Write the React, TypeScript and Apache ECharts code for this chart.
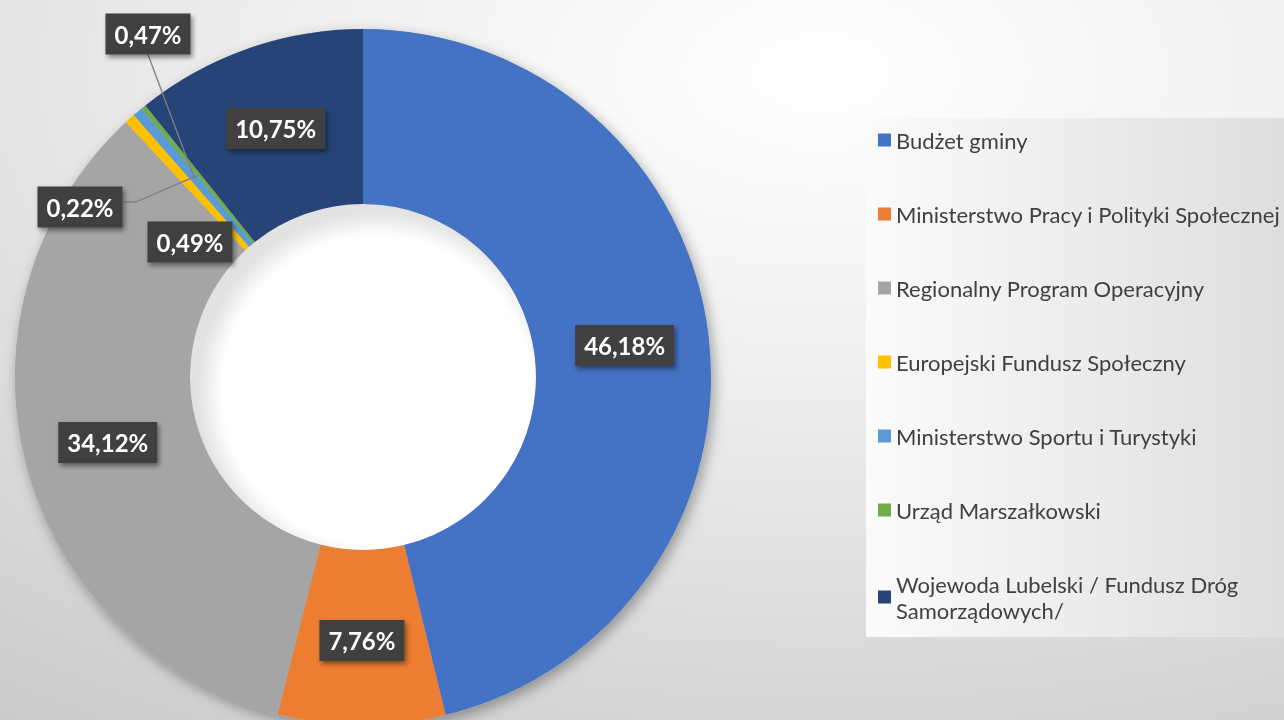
import React, { useEffect, useRef } from "react";
import * as echarts from "echarts";

const categories = [
  "Budżet gminy",
  "Ministerstwo Pracy i Polityki Społecznej",
  "Regionalny Program Operacyjny",
  "Europejski Fundusz Społeczny",
  "Ministerstwo Sportu i Turystyki",
  "Urząd Marszałkowski",
  "Wojewoda Lubelski / Fundusz Dróg Samorządowych/",
];
const shares = [46.18, 7.76, 34.12, 0.49, 0.47, 0.22, 10.75];
const colors = ["#4472C4", "#ED7D31", "#A5A5A5", "#FFC000", "#5B9BD5", "#70AD47", "#264478"];

// layout (not data)
const CX = 363;
const CY = 377;
const R_IN = 173;
const R_OUT = 348;
// manual label placements for the tiny slices: [x, y, withLine]
const labelPlacement: Record<number, [number, number, boolean]> = {
  3: [190, 242, false],
  4: [148, 34, true],
  5: [80, 207, true],
};

function midAnchor(idx: number): [number, number] {
  const total = shares.reduce((a, b) => a + b, 0);
  let cum = 0;
  for (let i = 0; i < idx; i++) cum += shares[i];
  const mid = (cum + shares[idx] / 2) / total;
  const ang = mid * Math.PI * 2;
  const r = (R_IN + R_OUT) / 2;
  return [CX + r * Math.sin(ang), CY - r * Math.cos(ang)];
}

export default function App() {
  const ref = useRef<HTMLDivElement>(null);
  useEffect(() => {
    if (!ref.current) return;
    const chart = echarts.init(ref.current, null, { renderer: "svg" });
    const labelBox = {
      color: "#ffffff",
      fontFamily: "Lato",
      fontWeight: "bold" as const,
      fontSize: 24,
      lineHeight: 29,
      backgroundColor: "#404040",
      padding: [6, 9, 6, 9],
      shadowColor: "rgba(0,0,0,0.45)",
      shadowBlur: 5,
      shadowOffsetX: 2,
      shadowOffsetY: 3,
      formatter: (p: any) => p.value.toFixed(2).replace(".", ",") + "%",
    };
    const mainData = categories.map((name, i) => {
      const pl = labelPlacement[i];
      const item: any = { name, value: shares[i], itemStyle: { color: colors[i] } };
      if (pl && pl[2]) item.label = { show: false };
      return item;
    });
    const overlayData = categories.map((name, i) => {
      const pl = labelPlacement[i];
      const item: any = { name: "_o" + i, value: shares[i] };
      if (pl && pl[2]) {
        item.label = { show: true };
        item.labelLine = { show: true };
      }
      return item;
    });
    const layoutFn = (p: any) => {
      const pl = labelPlacement[p.dataIndex];
      if (!pl) return {};
      const res: any = { x: pl[0], y: pl[1], align: "center", verticalAlign: "middle" };
      if (pl[2]) {
        const a = midAnchor(p.dataIndex);
        const r = p.labelRect;
        if (p.dataIndex === 4) {
          const end: [number, number] = [pl[0], pl[1] + r.height / 2];
          res.labelLinePoints = [a, [(a[0] + end[0]) / 2, (a[1] + end[1]) / 2], end];
        } else {
          const endX = pl[0] + r.width / 2;
          res.labelLinePoints = [a, [endX + 13, pl[1] - 5], [endX + 1, pl[1] - 5]];
        }
      }
      return res;
    };
    chart.setOption({
      animation: false,
      backgroundColor: {
        type: "radial",
        x: 0.64,
        y: 0.1,
        r: 1.15,
        colorStops: [
          { offset: 0, color: "#ffffff" },
          { offset: 0.35, color: "#f0f0f0" },
          { offset: 1, color: "#c8c8c8" },
        ],
      },
      graphic: [
        {
          type: "rect",
          shape: { x: 866, y: 118, width: 418, height: 519 },
          style: {
            fill: {
              type: "linear",
              x: 0,
              y: 0,
              x2: 1,
              y2: 0,
              colorStops: [
                { offset: 0, color: "#fbfbfb" },
                { offset: 1, color: "#dedede" },
              ],
            },
          },
          z: -10,
          silent: true,
        },
      ],
      legend: {
        orient: "vertical",
        left: 873,
        top: 127,
        padding: [0, 5, 0, 5],
        itemWidth: 13,
        itemHeight: 13,
        itemGap: 48,
        icon: "rect",
        data: categories,
        formatter: (name: string) =>
          name === categories[6] ? "Wojewoda Lubelski / Fundusz Dróg\nSamorządowych/" : name,
        textStyle: {
          fontFamily: "Lato",
          fontSize: 22,
          lineHeight: 26,
          color: "#404040",
        },
      },
      series: [
        {
          type: "pie",
          silent: true,
          radius: [R_IN, R_OUT],
          center: [CX, CY],
          z: 1,
          label: { show: false },
          labelLine: { show: false },
          itemStyle: {
            color: "#b0b0b0",
            shadowBlur: 14,
            shadowOffsetX: 3,
            shadowOffsetY: 5,
            shadowColor: "rgba(0,0,0,0.35)",
          },
          data: [{ value: 1, name: "__ring" }],
        },
        {
          type: "pie",
          silent: true,
          radius: [0, R_IN],
          center: [CX, CY],
          z: 1,
          label: { show: false },
          labelLine: { show: false },
          itemStyle: {
            color: {
              type: "radial",
              x: 0.54,
              y: 0.54,
              r: 0.52,
              colorStops: [
                { offset: 0, color: "#ffffff" },
                { offset: 0.86, color: "#ffffff" },
                { offset: 1, color: "#e2e2e2" },
              ],
            },
          },
          data: [{ value: 1, name: "__hole" }],
        },
        {
          type: "pie",
          z: 2,
          radius: [R_IN, R_OUT],
          center: [CX, CY],
          startAngle: 90,
          clockwise: true,
          avoidLabelOverlap: false,
          label: { show: true, position: "inside", ...labelBox },
          labelLine: { show: false },
          labelLayout: layoutFn,
          emphasis: { disabled: true },
          data: mainData,
        },
        {
          type: "pie",
          z: 5,
          silent: true,
          legendHoverLink: false,
          radius: [R_IN, R_OUT],
          center: [CX, CY],
          startAngle: 90,
          clockwise: true,
          avoidLabelOverlap: false,
          itemStyle: { color: "rgba(0,0,0,0)" },
          label: { show: false, position: "outside", ...labelBox },
          labelLine: {
            show: false,
            length: 10,
            length2: 10,
            lineStyle: { color: "#808080", width: 1.3 },
          },
          labelLayout: layoutFn,
          emphasis: { disabled: true },
          data: overlayData,
        },
      ],
    });
    return () => chart.dispose();
  }, []);
  return (
    <div
      ref={ref}
      style={{ position: "fixed", left: 0, top: 0, width: 1284, height: 720 }}
    />
  );
}
